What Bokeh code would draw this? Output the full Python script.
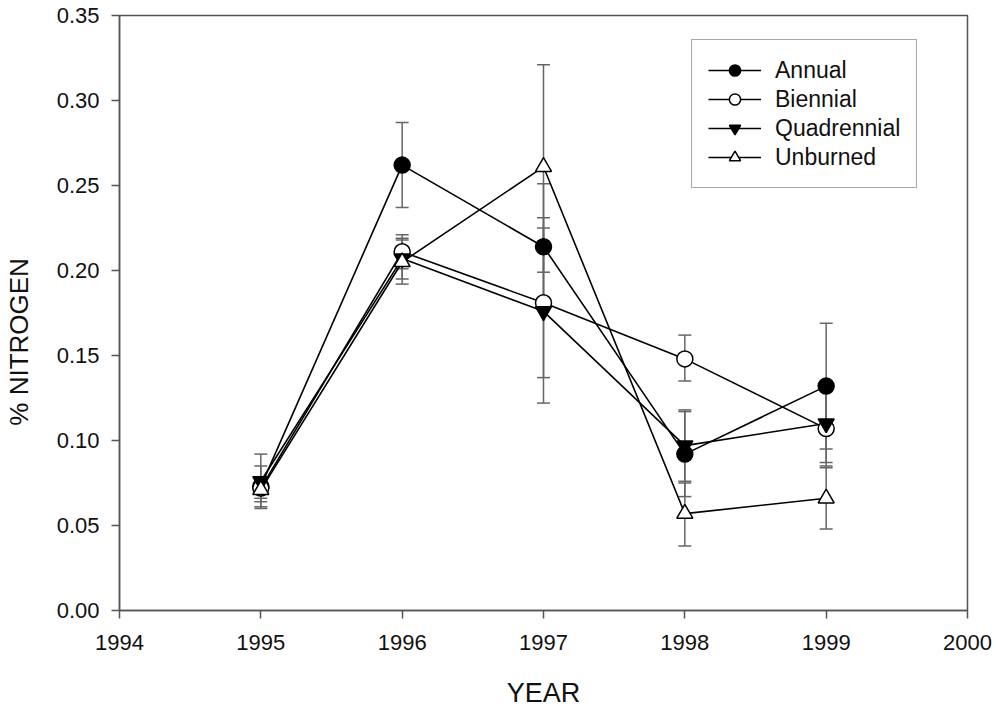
from bokeh.plotting import figure
from bokeh.models import (ColumnDataSource, Whisker, TeeHead, Legend, LegendItem,
                          FixedTicker, NumeralTickFormatter, Range1d)
from bokeh.embed import file_html
from bokeh.resources import INLINE

years = [1995, 1996, 1997, 1998, 1999]

annual = [0.073, 0.262, 0.214, 0.092, 0.132]
annual_hi = [0.085, 0.287, 0.251, 0.117, 0.169]
annual_lo = [0.061, 0.237, 0.177, 0.067, 0.095]

biennial = [0.072, 0.211, 0.181, 0.148, 0.107]
biennial_hi = [0.078, 0.221, 0.225, 0.162, 0.129]
biennial_lo = [0.066, 0.201, 0.137, 0.135, 0.084]

quadrennial = [0.076, 0.207, 0.176, 0.097, 0.110]
quadrennial_hi = [0.092, 0.219, 0.231, 0.118, 0.134]
quadrennial_lo = [0.060, 0.195, 0.122, 0.076, 0.087]

unburned = [0.071, 0.205, 0.261, 0.057, 0.066]
unburned_hi = [0.078, 0.218, 0.321, 0.075, 0.085]
unburned_lo = [0.064, 0.192, 0.199, 0.038, 0.048]

x_ticks = [1994, 1995, 1996, 1997, 1998, 1999, 2000]
y_ticks = [0.0, 0.05, 0.10, 0.15, 0.20, 0.25, 0.30, 0.35]

FONT = "Liberation Sans"
AX = "#555555"

p = figure(width=1000, height=710, x_range=Range1d(1994, 2000), y_range=Range1d(0, 0.35),
           output_backend="svg", toolbar_location=None,
           min_border_left=118, min_border_right=33, min_border_top=15, min_border_bottom=100)

p.xgrid.visible = False
p.ygrid.visible = False
p.outline_line_color = AX
p.outline_line_width = 1.5
p.background_fill_color = "white"
p.border_fill_color = "white"

for ax in (p.xaxis[0], p.yaxis[0]):
    ax.axis_line_color = AX
    ax.axis_line_width = 1.5
    ax.major_tick_line_color = AX
    ax.major_tick_line_width = 1.5
    ax.major_tick_out = 8
    ax.major_tick_in = 0
    ax.minor_tick_line_color = None
    ax.major_label_text_font = FONT
    ax.major_label_text_font_size = "22px"
    ax.major_label_text_color = "#111111"
    ax.axis_label_text_font = FONT
    ax.axis_label_text_font_style = "normal"
    ax.axis_label_text_color = "#111111"

p.xaxis.major_label_standoff = 16
p.yaxis.major_label_standoff = 12

p.xaxis.ticker = FixedTicker(ticks=x_ticks)
p.yaxis.ticker = FixedTicker(ticks=y_ticks)
p.yaxis.formatter = NumeralTickFormatter(format="0.00")

p.xaxis.axis_label = "YEAR"
p.xaxis.axis_label_text_font_size = "27px"
p.xaxis.axis_label_standoff = 25

p.yaxis.axis_label = "% NITROGEN" + "\u00a0" * 8
p.yaxis.axis_label_text_font_size = "26px"
p.yaxis.axis_label_standoff = 20

series = [
    ("Annual", annual, annual_lo, annual_hi, "circle", "black", 16),
    ("Biennial", biennial, biennial_lo, biennial_hi, "circle", "white", 16),
    ("Quadrennial", quadrennial, quadrennial_lo, quadrennial_hi, "inverted_triangle", "black", 16),
    ("Unburned", unburned, unburned_lo, unburned_hi, "triangle", "white", 16),
]

# error bars first
for name, vals, lo, hi, marker, fill, size in series:
    src = ColumnDataSource(dict(x=years, y=vals, lo=lo, hi=hi))
    w = Whisker(source=src, base="x", lower="lo", upper="hi", dimension="height",
                line_color="#666666", line_width=1.5,
                upper_head=TeeHead(size=13, line_color="#666666", line_width=1.5),
                lower_head=TeeHead(size=13, line_color="#666666", line_width=1.5))
    p.add_layout(w)

items = []
renderers = []
for name, vals, lo, hi, marker, fill, size in series:
    src = ColumnDataSource(dict(x=years, y=vals))
    ln = p.line("x", "y", source=src, line_color="black", line_width=1.6)
    renderers.append((name, ln, src, marker, fill, size))

for name, ln, src, marker, fill, size in renderers:
    sc = p.scatter("x", "y", source=src, marker=marker, size=size, fill_color=fill,
                   line_color="black", line_width=1.5)
    items.append(LegendItem(label=name, renderers=[ln, sc]))

legend = Legend(items=items, location=(572, 422), margin=0,
                border_line_color=AX, border_line_width=1.5,
                background_fill_color="white", background_fill_alpha=1.0,
                label_text_font=FONT, label_text_font_size="23px", label_text_color="#111111",
                glyph_width=53, glyph_height=28, label_height=28, spacing=1,
                label_standoff=14, padding=16)
p.add_layout(legend, "center")

open("out.html", "w").write(file_html(p, INLINE))
